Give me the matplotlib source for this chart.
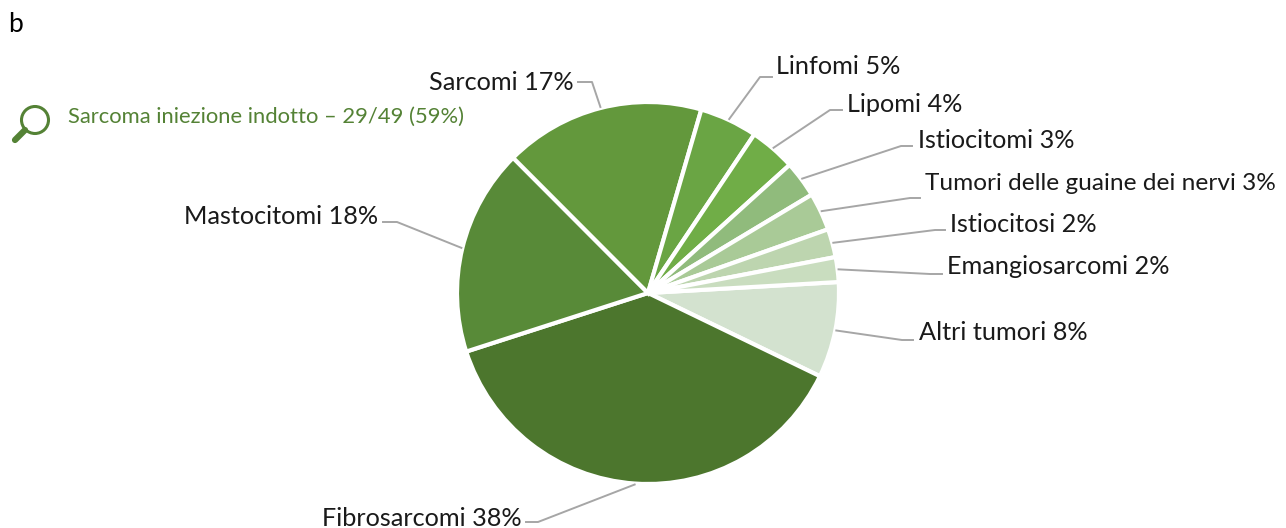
#!/usr/bin/env python3
import numpy as np
from matplotlib import pyplot as plt
from matplotlib.patches import Circle

W, H = 1286, 528

# clockwise from the top of the "Altri tumori" slice
names = ["Altri tumori", "Fibrosarcomi", "Mastocitomi", "Sarcomi", "Linfomi", "Lipomi",
         "Istiocitomi", "Tumori delle guaine dei nervi", "Istiocitosi", "Emangiosarcomi"]
shown_pct = [8, 38, 18, 17, 5, 4, 3, 3, 2, 2]
# slice sizes
sizes = [8.1, 37.9, 17.5, 17.0, 4.9, 3.9, 3.1, 3.2, 2.4, 2.1]
colors = ["#d3e2cf", "#4c762d", "#588a38", "#63983c", "#6aa544", "#70ad47",
          "#90bb7c", "#a9ca97", "#bdd5af", "#c9ddbf"]

# label anchor, leader elbow, leader end (pixels from top left)
layout = {
    "Altri tumori": ((919, 333), (902, 340), (913, 340), "left"),
    "Fibrosarcomi": ((522, 518), (538, 522), (526, 522), "right"),
    "Mastocitomi": ((378, 217), (397, 222), (383, 222), "right"),
    "Sarcomi": ((574, 83), (592, 82), (578, 82), "right"),
    "Linfomi": ((776, 67), (760, 77), (772, 77), "left"),
    "Lipomi": ((847, 104), (830, 110), (842, 110), "left"),
    "Istiocitomi": ((918, 140), (901, 146), (912, 146), "left"),
    "Tumori delle guaine dei nervi": ((925, 183), (910, 198), (920, 198), "left"),
    "Istiocitosi": ((950, 224), (935, 230), (945, 230), "left"),
    "Emangiosarcomi": ((947, 267), (930, 274), (942, 274), "left"),
}

plt.rcParams['font.family'] = ['Lato Light', 'Lato', 'DejaVu Sans']
fig = plt.figure(figsize=(W / 100, H / 100), dpi=100)
ax = fig.add_axes([0, 0, 1, 1])

cx, cy, radius = 648, H - 293, 191
wedges, _ = ax.pie(sizes, colors=colors, startangle=3.3, counterclock=False,
                   center=(cx, cy), radius=radius,
                   wedgeprops={'edgecolor': 'white', 'linewidth': 3})
ax.set_xlim(0, W)
ax.set_ylim(0, H)
ax.set_aspect('equal')
ax.axis('off')

for wedge, name, pct in zip(wedges, names, shown_pct):
    (tx, ty), elbow, end, ha = layout[name]
    mid = np.deg2rad((wedge.theta1 + wedge.theta2) / 2)
    sx = cx + (radius + 1) * np.cos(mid)
    sy = cy + (radius + 1) * np.sin(mid)
    ax.plot([sx, elbow[0], end[0]], [sy, H - elbow[1], H - end[1]], color="#a6a6a6", lw=1.4, zorder=1)
    # the long one runs a bit wide in this font
    size = 17.6 if name.startswith("Tumori") else 18.2
    ax.text(tx, H - ty, f"{name} {pct}%", ha=ha, va='center', fontsize=size, color="#1a1a1a")

ax.text(8, H - 24, "b", ha='left', va='center', fontsize=19, color="black")
ax.text(68, H - 117, "Sarcoma iniezione indotto – 29/49 (59%)", ha='left', va='center',
        fontsize=15.8, color="#548235")

# magnifier icon
ax.add_patch(Circle((35, H - 120), 13.5, fill=False, edgecolor="#548235", linewidth=2.2))
ax.plot([25, 15], [H - 130, H - 140], color="#548235", lw=4.5, solid_capstyle='round')

fig.savefig("out.png", dpi=100)
